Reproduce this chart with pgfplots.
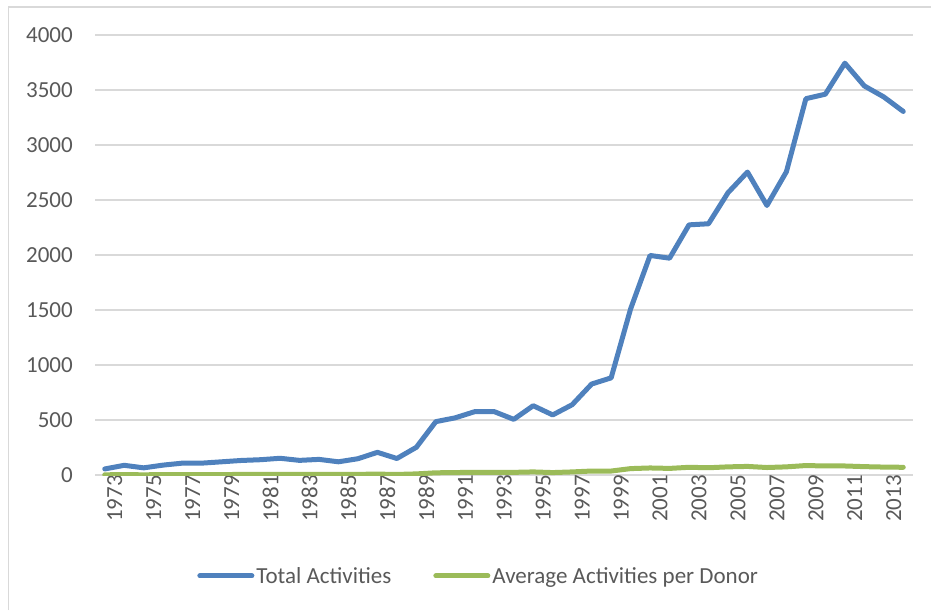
\documentclass[border=0pt]{standalone}
\usepackage{pgfplots}
\pgfplotsset{compat=1.18}
\usepackage{fontspec}
\setmainfont{Carlito}
\definecolor{blueline}{HTML}{4F81BD}
\definecolor{greenline}{HTML}{9BBB59}
\definecolor{gridgray}{HTML}{D9D9D9}
\definecolor{textgray}{HTML}{595959}
\begin{document}
\begin{tikzpicture}
\useasboundingbox (0,0) rectangle (931pt,610pt);
\draw[gridgray, line width=1.5pt] (8.5pt,0pt) -- (8.5pt,603pt) -- (931pt,603pt);
\begin{axis}[
  at={(95pt,135pt)}, anchor=south west,
  scale only axis, width=818pt, height=440pt,
  xmin=-0.5, xmax=41.5, ymin=0, ymax=4000,
  ytick={0,500,...,4000},
  xtick={0,2,...,40},
  xticklabels={1973,1975,1977,1979,1981,1983,1985,1987,1989,1991,1993,1995,1997,1999,2001,2003,2005,2007,2009,2011,2013},
  major tick length=0pt,
  axis line style={draw=none},
  ymajorgrids, grid style={gridgray, line width=1.5pt},
  scaled ticks=false,
  /pgf/number format/1000 sep={},
  /pgf/number format/assume math mode=true,
  tick label style={font=\fontsize{23}{27}\selectfont, text=textgray},
  yticklabel style={anchor=east, inner sep=0pt, xshift=-22pt},
  xticklabel style={rotate=90, anchor=east, inner sep=0pt, yshift=-10pt},
  legend columns=2,
  legend style={at={(0.469,-0.2295)}, anchor=center, draw=none, fill=none,
    font=\fontsize{23}{27}\selectfont, text=textgray,
    /tikz/every even column/.append style={column sep=40pt},
    nodes={inner sep=2pt}},
  legend image code/.code={\draw[#1] (0pt,0pt) -- (52pt,0pt);},
  every axis plot/.append style={line width=5pt, line cap=round, line join=round},
]
\addplot[blueline] table[x=i, y=v] {
i v
0 55
1 88
2 65
3 90
4 108
5 108
6 120
7 132
8 139
9 152
10 133
11 142
12 120
13 148
14 206
15 150
16 252
17 485
18 520
19 576
20 576
21 506
22 630
23 546
24 639
25 827
26 883
27 1510
28 1996
29 1971
30 2274
31 2284
32 2566
33 2754
34 2450
35 2757
36 3421
37 3462
38 3744
39 3537
40 3437
41 3305
};
\addlegendentry{Total Activities}
\addplot[greenline] table[x=i, y=v] {
i v
0 2
1 3
2 2
3 3
4 4
5 4
6 4
7 5
8 5
9 5
10 5
11 5
12 5
13 6
14 8
15 5
16 10
17 20
18 22
19 25
20 25
21 24
22 28
23 22
24 28
25 36
26 36
27 58
28 64
29 60
30 70
31 66
32 74
33 78
34 68
35 74
36 86
37 82
38 82
39 76
40 72
41 70
};
\addlegendentry{Average Activities per Donor}
\end{axis}
\end{tikzpicture}
\end{document}
